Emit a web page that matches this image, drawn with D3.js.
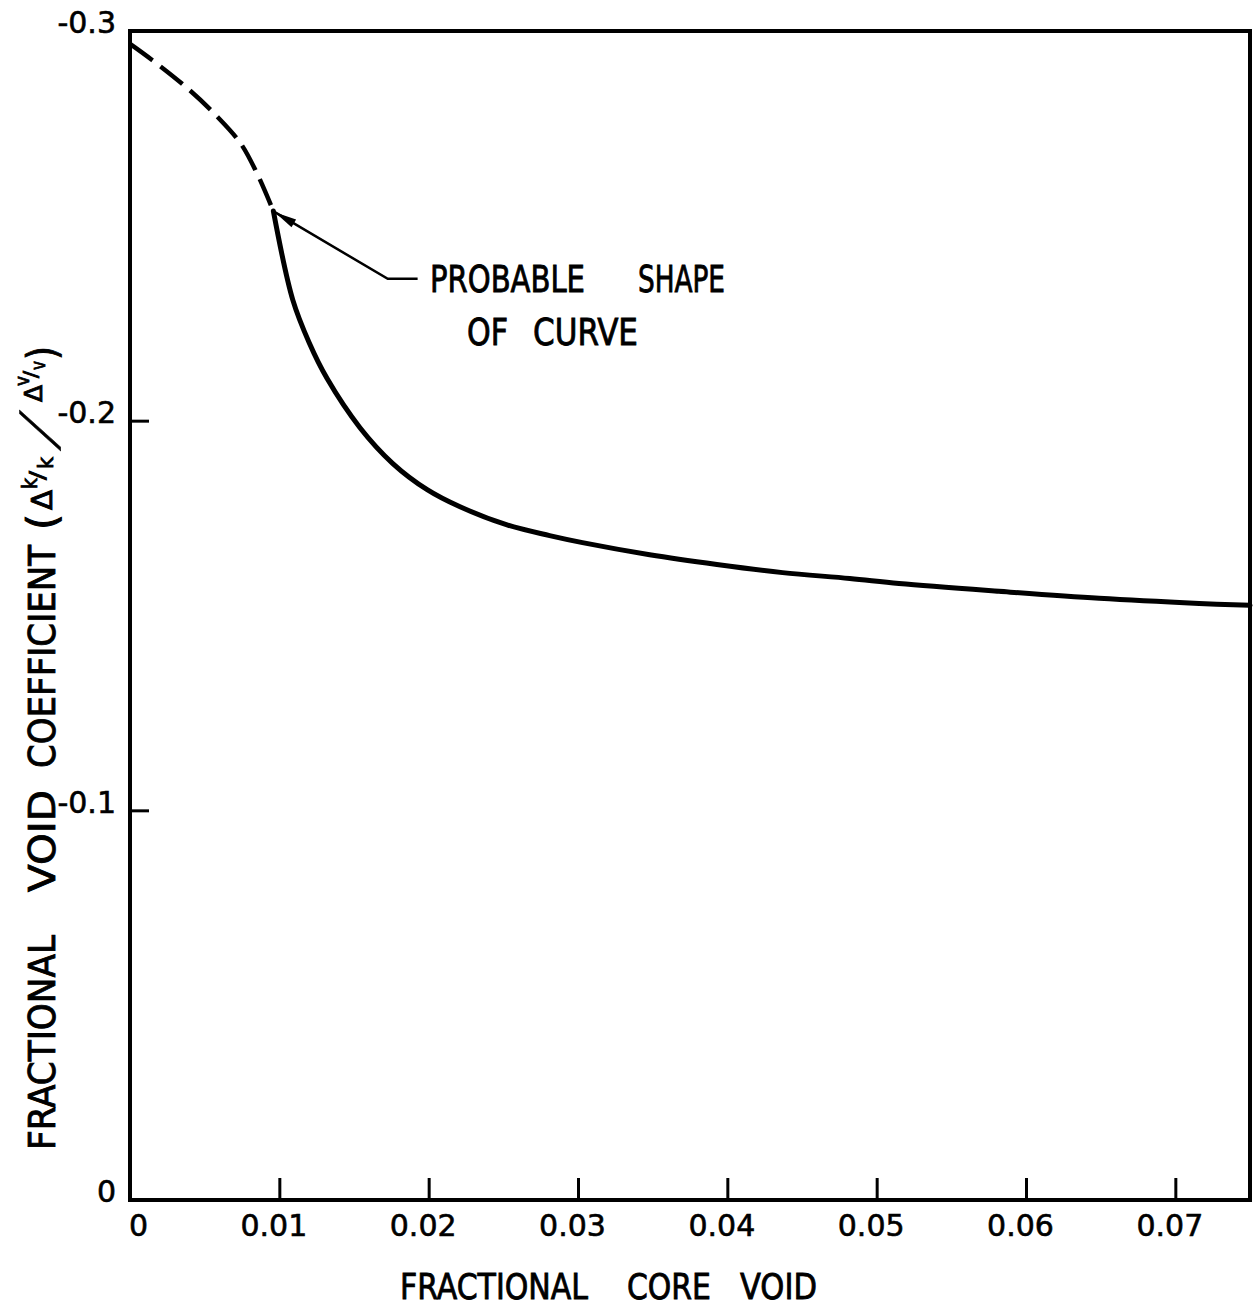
<!DOCTYPE html>
<html>
<head>
<meta charset="utf-8">
<script src="https://cdn.jsdelivr.net/npm/d3@7"></script>
<style>
  html, body { margin: 0; padding: 0; background: #fff; }
  svg { display: block; }
  text { fill: #000; }
</style>
</head>
<body>
<svg id="chart" width="1257" height="1308"></svg>
<script>
// ---- data ----
const dashedX = [0, 0.0015, 0.0040, 0.0058, 0.0074, 0.0085, 0.0096];
const dashedY = [-0.2967, -0.2925, -0.2848, -0.2782, -0.2712, -0.2635, -0.2538];

const solidX = [0.0096, 0.0109, 0.0120, 0.0132, 0.0154, 0.0176, 0.0199, 0.0221, 0.0252,
                0.0281, 0.0303, 0.0348, 0.0393, 0.0437, 0.0482, 0.0515, 0.0582, 0.0649, 0.0716, 0.075];
const solidY = [-0.2538, -0.2310, -0.2200, -0.2108, -0.1982, -0.1890, -0.1823, -0.1779, -0.1733,
                -0.1705, -0.1687, -0.1656, -0.1631, -0.1610, -0.1595, -0.1582, -0.1562, -0.1544, -0.1531, -0.1526];

const xTicks = [0, 0.01, 0.02, 0.03, 0.04, 0.05, 0.06, 0.07];
const xTickLabels = ["0", "0.01", "0.02", "0.03", "0.04", "0.05", "0.06", "0.07"];
const yTicks = [0, -0.1, -0.2, -0.3];
const yTickLabels = ["0", "-0.1", "-0.2", "-0.3"];

const xTitleWords = ["FRACTIONAL", "CORE", "VOID"];
const yTitleWords = ["FRACTIONAL", "VOID", "COEFFICIENT"];
const noteLine1 = ["PROBABLE", "SHAPE"];
const noteLine2 = ["OF", "CURVE"];

// ---- layout ----
const L = 130, R = 1250, T = 31, B = 1200;
const svg = d3.select("#chart");
const x = d3.scaleLinear().domain([0, 0.075]).range([L, R]);
const y = d3.scaleLinear().domain([0, -0.3]).range([B, T]);

const numFont = "'DejaVu Sans', sans-serif";
const capFont = "'DejaVu Sans Condensed', 'DejaVu Sans', sans-serif";

// frame
svg.append("rect")
  .attr("x", L).attr("y", T).attr("width", R - L).attr("height", B - T)
  .attr("fill", "none").attr("stroke", "#000").attr("stroke-width", 4);

// x axis (ticks pointing inward)
const xAxis = d3.axisBottom(x)
  .tickValues(xTicks)
  .tickFormat((d, i) => xTickLabels[i])
  .tickSizeInner(-22).tickSizeOuter(0).tickPadding(15);
const gx = svg.append("g").attr("transform", `translate(0,${B})`).call(xAxis);
gx.select(".domain").remove();
gx.selectAll(".tick line").attr("stroke", "#000").attr("stroke-width", 3);
gx.selectAll(".tick text")
  .attr("font-family", numFont).attr("font-size", 30).attr("fill", "#000")
  .attr("stroke", "#000").attr("stroke-width", 0.6)
  .attr("dx", (d, i) => i === 0 ? 8 : -6);

// y axis (ticks pointing inward)
const yAxis = d3.axisLeft(y)
  .tickValues(yTicks)
  .tickFormat((d, i) => yTickLabels[i])
  .tickSizeInner(-19).tickSizeOuter(0).tickPadding(14);
const gy = svg.append("g").attr("transform", `translate(${L},0)`).call(yAxis);
gy.select(".domain").remove();
gy.selectAll(".tick line").attr("stroke", "#000").attr("stroke-width", 3);
gy.selectAll(".tick text")
  .attr("font-family", numFont).attr("font-size", 30).attr("fill", "#000")
  .attr("stroke", "#000").attr("stroke-width", 0.6)
  .attr("dy", "0.06em");

// curves
const line = d3.line().x(d => x(d[0])).y(d => y(d[1])).curve(d3.curveCatmullRom.alpha(0.5));
const dashed = dashedX.map((v, i) => [v, dashedY[i]]);
const solid = solidX.map((v, i) => [v, solidY[i]]);

svg.append("path").attr("d", line(dashed))
  .attr("fill", "none").attr("stroke", "#000").attr("stroke-width", 4.5)
  .attr("stroke-dasharray", "28,10");
svg.append("path").attr("d", line(solid))
  .attr("fill", "none").attr("stroke", "#000").attr("stroke-width", 5)
  .attr("stroke-linejoin", "round").attr("stroke-linecap", "round");

// annotation leader with arrowhead
const tip = [x(0.0097), y(-0.2535)];
const elbow = [x(0.01726), y(-0.2364)];
const tail = [x(0.01926), y(-0.2364)];
svg.append("polyline")
  .attr("points", [tip, elbow, tail].map(p => p.join(",")).join(" "))
  .attr("fill", "none").attr("stroke", "#000").attr("stroke-width", 2.5);
{
  const dx = elbow[0] - tip[0], dy = elbow[1] - tip[1];
  const len = Math.hypot(dx, dy), ux = dx / len, uy = dy / len;
  const hl = 22, hw = 4.5;
  const bx = tip[0] + ux * hl, by = tip[1] + uy * hl;
  svg.append("polygon")
    .attr("points", [[tip[0], tip[1]], [bx - uy * hw, by + ux * hw], [bx + uy * hw, by - ux * hw]]
      .map(p => p.join(",")).join(" "))
    .attr("fill", "#000");
}

// annotation text
function word(txt, x0, x1, base, size) {
  svg.append("text").attr("x", x0).attr("y", base)
    .attr("font-family", capFont).attr("font-size", size)
    .attr("stroke", "#000").attr("stroke-width", 0.8)
    .attr("textLength", x1 - x0).attr("lengthAdjust", "spacingAndGlyphs")
    .text(txt);
}
word(noteLine1[0], 430, 585, 292, 37);
word(noteLine1[1], 638, 725, 292, 37);
word(noteLine2[0], 467, 508, 345, 37);
word(noteLine2[1], 533, 638, 345, 37);

// x title
word(xTitleWords[0], 400, 588, 1299, 36);
word(xTitleWords[1], 627, 711, 1299, 36);
word(xTitleWords[2], 740, 817, 1299, 36);

// y title (rotated): local (lx, ly) -> page (55 + ly, -lx)
const gyt = svg.append("g").attr("transform", "translate(55,0) rotate(-90)");
function vglyph(txt, y0, y1, size, baseX) {
  const t = gyt.append("text").attr("x", -y0).attr("y", baseX - 55)
    .attr("font-family", capFont).attr("font-size", size)
    .attr("stroke", "#000").attr("stroke-width", 0.8)
    .text(txt);
  if (y1 !== null) t.attr("textLength", y0 - y1).attr("lengthAdjust", "spacingAndGlyphs");
  return t;
}
vglyph(yTitleWords[0], 1150, 935, 37, 55);
vglyph(yTitleWords[1], 892, 790, 37, 55);
vglyph(yTitleWords[2], 768, 545, 37, 55);

// fraction (Δk/k / Δv/v)
vglyph("(", 530, 514, 40, 56);
vglyph("Δ", 510, 490, 28, 52);
vglyph("k", 489, 478, 22, 37);
vglyph("/", 480, 471, 22, 45);
vglyph("k", 469, 457, 22, 53);
gyt.append("text")
  .attr("transform", `translate(${-448},${56 - 55}) skewX(-32)`)
  .attr("font-family", capFont).attr("font-size", 50)
  .attr("stroke", "#000").attr("stroke-width", 0.6)
  .text("/");
vglyph("Δ", 402, 385, 24, 42);
vglyph("v", 386, 376, 19, 29);
vglyph("/", 378, 371, 19, 37);
vglyph("v", 370, 361, 19, 45);
vglyph(")", 360, 346, 40, 56);
</script>
</body>
</html>
